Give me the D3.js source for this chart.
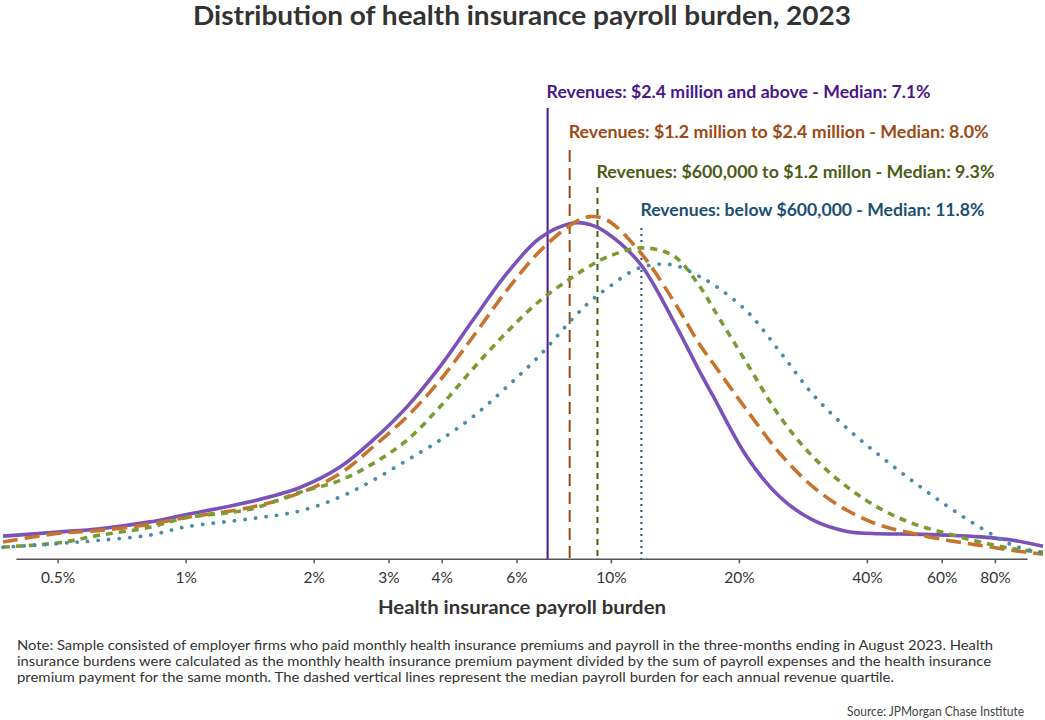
<!DOCTYPE html>
<html>
<head>
<meta charset="utf-8">
<script src="https://cdn.jsdelivr.net/npm/d3@7"></script>
<style>
  html, body { margin: 0; padding: 0; background: #fff; }
  svg { display: block; font-family: Lato, "Open Sans", sans-serif; }
</style>
</head>
<body>
<svg id="chart" width="1045" height="720"></svg>
<script>
// ---------- DATA ----------
const burdenPct = [0.372, 0.5, 0.629, 0.824, 1.0, 1.417, 1.857, 2.307, 2.757, 3.315, 3.964, 4.74, 5.696, 6.813, 8.145, 8.93, 9.79, 11.71, 14.0, 16.2, 17.39, 20.89, 24.98, 29.88, 35.92, 42.95, 51.34, 61.71, 73.8, 88.24, 103.8];

const densityAbove24M  = [0.068, 0.080, 0.090, 0.110, 0.131, 0.169, 0.211, 0.271, 0.350, 0.448, 0.566, 0.703, 0.840, 0.944, 0.988, 0.984, 0.959, 0.869, 0.703, 0.550, 0.480, 0.301, 0.183, 0.115, 0.082, 0.075, 0.074, 0.071, 0.066, 0.056, 0.038];
const density12to24M   = [0.051, 0.076, 0.085, 0.103, 0.123, 0.152, 0.195, 0.252, 0.330, 0.419, 0.526, 0.654, 0.791, 0.906, 0.987, 1.007, 0.997, 0.903, 0.762, 0.630, 0.576, 0.438, 0.311, 0.213, 0.144, 0.100, 0.076, 0.056, 0.041, 0.026, 0.015];
const density600kTo12M = [0.036, 0.048, 0.071, 0.094, 0.122, 0.147, 0.197, 0.232, 0.281, 0.350, 0.448, 0.560, 0.668, 0.760, 0.830, 0.862, 0.888, 0.915, 0.893, 0.801, 0.738, 0.576, 0.419, 0.301, 0.213, 0.149, 0.105, 0.076, 0.051, 0.031, 0.021];
const densityBelow600k = [0.035, 0.046, 0.056, 0.071, 0.095, 0.119, 0.142, 0.183, 0.232, 0.291, 0.350, 0.419, 0.507, 0.600, 0.708, 0.757, 0.796, 0.857, 0.865, 0.830, 0.808, 0.729, 0.610, 0.484, 0.385, 0.304, 0.229, 0.157, 0.094, 0.041, 0.018];

const groupKeys   = ["above24M", "from12to24M", "from600kTo12M", "below600k"];
const medianPct   = [7.1, 8.0, 9.3, 11.8];
const medianLabels = [
  "Revenues: $2.4 million and above - Median: 7.1%",
  "Revenues: $1.2 million to $2.4 million - Median: 8.0%",
  "Revenues: $600,000 to $1.2 millon - Median: 9.3%",
  "Revenues: below $600,000 - Median: 11.8%"
];
const tickValues = [0.5, 1, 2, 3, 4, 6, 10, 20, 40, 60, 80];
const tickLabels = ["0.5%", "1%", "2%", "3%", "4%", "6%", "10%", "20%", "40%", "60%", "80%"];

const titleText = "Distribution of health insurance payroll burden, 2023";
const xAxisTitle = "Health insurance payroll burden";
const noteLines = [
  "Note: Sample consisted of employer firms who paid monthly health insurance premiums and payroll in the three-months ending in August 2023. Health",
  "insurance burdens were calculated as the monthly health insurance premium payment divided by the sum of payroll expenses and the health insurance",
  "premium payment for the same month. The dashed vertical lines represent the median payroll burden for each annual revenue quartile."
];
const sourceText = "Source: JPMorgan Chase Institute";

// ---------- STYLES ----------
const curveColors = ["#7b52b9", "#c9722c", "#7c9a33", "#4a8ba8"];
const labelColors = ["#4b1689", "#9c4a14", "#4c5c16", "#1c4f73"];
const curveDash   = [null, "15,7", "7,6", "0.1,10.5"];
const vlineDash   = [null, "12,6", "6,5", "2,4"];
const seriesValues = [densityAbove24M, density12to24M, density600kTo12M, densityBelow600k];

// ---------- CHART ----------
const svg = d3.select("#chart");
const axisY = 559.3;

const x = d3.scaleLog().domain([0.372, 103.8]).range([3, 1043]);
const y = d3.scaleLinear().domain([0, 1]).range([axisY, 219]);

function fit(sel, w) {
  const len = sel.node().getComputedTextLength();
  if (Math.abs(len - w) / w > 0.01) sel.attr("textLength", w).attr("lengthAdjust", "spacingAndGlyphs");
  return sel;
}

// Title
fit(svg.append("text")
  .attr("x", 522).attr("y", 25)
  .attr("text-anchor", "middle")
  .attr("font-size", 26).attr("font-weight", 700)
  .attr("fill", "#333")
  .text(titleText), 658);

// Median vertical lines + labels
const lineTops = [108, 150, 187, 228];
const labelBase = [98, 137.5, 177.5, 216];
const labelWidths = [384, 420, 398, 344];
medianPct.forEach((m, i) => {
  const l = svg.append("line")
    .attr("x1", x(m)).attr("x2", x(m))
    .attr("y1", lineTops[i]).attr("y2", axisY)
    .attr("stroke", labelColors[i])
    .attr("stroke-width", 2);
  if (vlineDash[i]) l.attr("stroke-dasharray", vlineDash[i]);
  fit(svg.append("text")
    .attr("x", x(m) - 1).attr("y", labelBase[i])
    .attr("font-size", 16.5).attr("font-weight", 700)
    .attr("fill", labelColors[i])
    .text(medianLabels[i]), labelWidths[i]);
});

// Curves
const line = d3.line()
  .x(d => x(d[0]))
  .y(d => y(d[1]))
  .curve(d3.curveCatmullRom.alpha(0.5));

groupKeys.forEach((k, i) => {
  const pts = burdenPct.map((p, j) => [p, seriesValues[i][j]]);
  const path = svg.append("path")
    .datum(pts)
    .attr("class", "curve " + k)
    .attr("d", line)
    .attr("fill", "none")
    .attr("stroke", curveColors[i])
    .attr("stroke-width", i === 3 ? 3.8 : 3.6)
    .attr("stroke-linecap", i === 3 ? "round" : "butt");
  if (curveDash[i]) path.attr("stroke-dasharray", curveDash[i]);
});

// X axis
svg.append("line")
  .attr("x1", x(0.4)).attr("x2", x(95.5))
  .attr("y1", axisY).attr("y2", axisY)
  .attr("stroke", "#555").attr("stroke-width", 1.5);

const axis = d3.axisBottom(x)
  .tickValues(tickValues)
  .tickFormat((d, i) => tickLabels[i])
  .tickSizeInner(4).tickSizeOuter(0).tickPadding(9);

const gx = svg.append("g").attr("transform", `translate(0,${axisY})`).call(axis);
gx.select(".domain").remove();
gx.selectAll(".tick line").attr("stroke", "#555").attr("stroke-width", 1.5);
gx.selectAll(".tick text")
  .attr("font-family", "Lato, 'Open Sans', sans-serif")
  .attr("font-size", 15.5).attr("fill", "#333");

fit(svg.append("text")
  .attr("x", 522).attr("y", 614)
  .attr("text-anchor", "middle")
  .attr("font-size", 19).attr("font-weight", 700)
  .attr("fill", "#333")
  .text(xAxisTitle), 288);

// Notes
const noteWidths = [976, 974, 877];
noteLines.forEach((t, i) => {
  fit(svg.append("text")
    .attr("x", 17).attr("y", 650 + i * 16)
    .attr("font-size", 14).attr("fill", "#333")
    .text(t), noteWidths[i]);
});

fit(svg.append("text")
  .attr("x", 1024).attr("y", 715.5)
  .attr("text-anchor", "end")
  .attr("font-size", 13).attr("fill", "#444")
  .text(sourceText), 177);
</script>
</body>
</html>
